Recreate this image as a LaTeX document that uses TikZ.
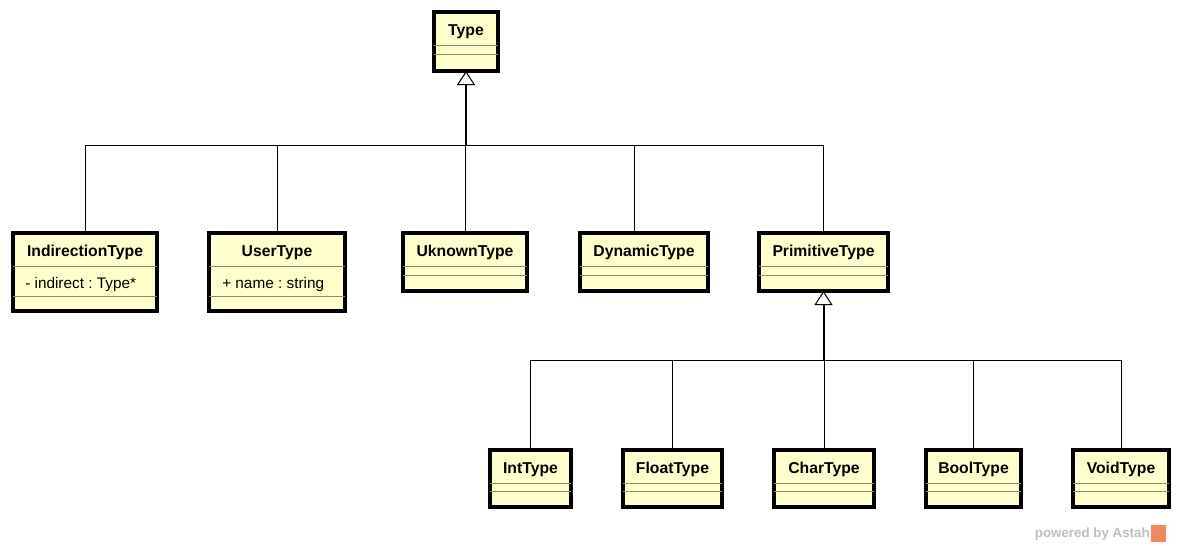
\documentclass[tikz,border=0pt]{standalone}
\usepackage{fontspec}
\setmainfont{Liberation Sans}
\frenchspacing
\usetikzlibrary{arrows.meta,fit,calc}
\definecolor{classfill}{HTML}{FFFFCC}
\definecolor{compline}{HTML}{8C8C6E}
\definecolor{wmgray}{HTML}{BFBFBF}
\definecolor{astahorange}{HTML}{F08A5D}
\tikzset{
  classnode/.style={draw=black, line width=2.3pt, fill=classfill, inner sep=0pt, outer sep=0pt},
  classtitle/.style={font=\bfseries\fontsize{11.8}{14}\selectfont, inner sep=0pt, anchor=base},
  classattr/.style={font=\fontsize{11.5}{14}\selectfont, inner sep=0pt, anchor=base west},
  compsep/.style={draw=compline, line width=0.75pt},
  branch/.style={draw=black, line width=0.75pt},
  genarrow/.style={draw=black, line width=1.5pt, -{Triangle[open, length=10.5pt, width=13.5pt, line width=0.75pt, fill=white]}},
}
% #1 name, #2 left, #3 top, #4 right, #5 bottom, #6 title, #7 second separator offset
\newcommand{\classbox}[7]{%
  \node[classnode, fit={(#2,#3) (#4,#5)}] (#1) {};
  \draw[compsep] (#2,#3+33) -- (#4,#3+33);
  \draw[compsep] (#2,#3+#7) -- (#4,#3+#7);
  \node[classtitle] (#1-title) at ({(#2+#4)/2},#3+23) {#6};
}
\begin{document}
\begin{tikzpicture}[x=0.75pt,y=-0.75pt]
\useasboundingbox (0,0) rectangle (1182,546);
\fill[white] (0,0) rectangle (1182,546);

% top
\classbox{type}{434}{12}{498}{71}{Type}{42}

% middle row
\classbox{ind}{13}{233}{157}{311}{IndirectionType}{63}
\node[classattr] (ind-attr) at (25,288) {- indirect : Type*};
\classbox{user}{209}{233}{345}{311}{UserType}{63}
\node[classattr] (user-attr) at (222,288) {+ name : string};
\classbox{unk}{403}{233}{527}{291}{UknownType}{42}
\classbox{dyn}{580}{233}{708}{291}{DynamicType}{42}
\classbox{prim}{759}{233}{888}{291}{PrimitiveType}{42}

% bottom row
\classbox{int}{490}{450}{571}{507}{IntType}{41}
\classbox{float}{623}{450}{722}{507}{FloatType}{41}
\classbox{char}{774}{450}{874}{507}{CharType}{41}
\classbox{bool}{926}{450}{1021}{507}{BoolType}{41}
\classbox{void}{1073}{450}{1169}{507}{VoidType}{41}

% generalization to Type
\coordinate (j1) at (466,145);
\coordinate (dynx) at (634,0);
\draw[branch] (ind.north) |- (j1);
\draw[branch] (user.north) |- (j1);
\draw[branch] (unk.north) |- (j1);
\draw[branch] (dyn.north -| dynx) |- (j1);
\draw[branch] (prim.north) |- (j1);
\draw[genarrow] (j1) -- (type.south);

% generalization to PrimitiveType
\coordinate (j2) at (823.5,360);
\draw[branch] (int.north) |- (j2);
\draw[branch] (float.north) |- (j2);
\draw[branch] (char.north) |- (j2);
\draw[branch] (bool.north) |- (j2);
\draw[branch] (void.north) |- (j2);
\draw[genarrow] (j2) -- (prim.south);

% watermark
\node[font=\bfseries\fontsize{10}{12}\selectfont, text=wmgray, anchor=east, inner sep=0pt] (wm) at (1150,534) {powered by Astah};
\fill[astahorange] (1151,525) rectangle (1166,542);
\end{tikzpicture}
\end{document}
